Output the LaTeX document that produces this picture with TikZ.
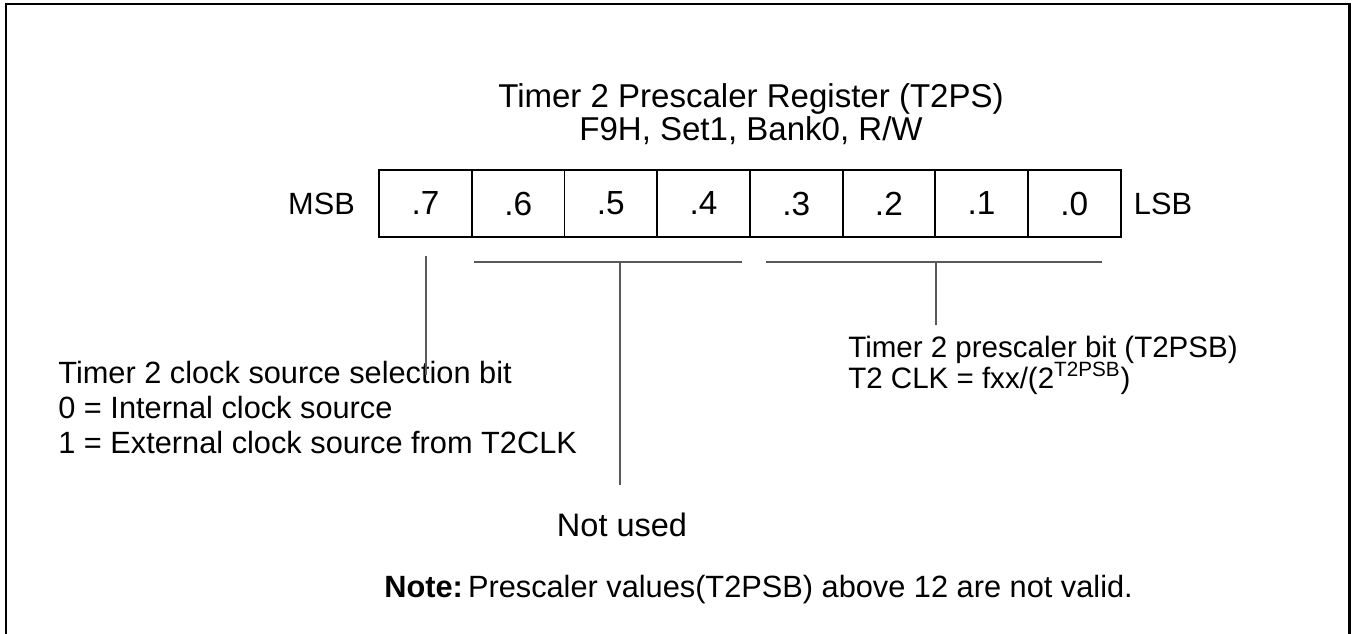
\documentclass[tikz,border=0pt]{standalone}
\usepackage{fontspec}
\setmainfont{Liberation Sans}
\usetikzlibrary{positioning}

\begin{document}
\begin{tikzpicture}[
    x=0.02cm, y=-0.02cm,
    txt/.style={font=\fontsize{17.5}{20}\selectfont, inner sep=0pt},
    bitcell/.style={rectangle, draw, line width=1.1pt, minimum width=1.854cm, minimum height=1.34cm, inner sep=0pt, font=\fontsize{19}{20}\selectfont},
    lead/.style={black!65, line width=0.6pt},
]
\useasboundingbox (0,0) rectangle (1352,633);
% Frame (open at the bottom)
\draw[line width=1.7pt] (6,640) -- (6,4) -- (1349,4) -- (1349,640);

% Title
\node[txt, align=center, font=\fontsize{18.8}{18.5}\selectfont] (title) at (751,114) {Timer 2 Prescaler Register (T2PS)\\F9H, Set1, Bank0, R/W};

% Register bits
\node[bitcell] (b7) at (425.5,203.5) {.7};
\node[bitcell, right=-1.1pt of b7] (b6) {.6};
\node[bitcell, right=-1.1pt of b6] (b5) {.5};
\node[bitcell, right=-1.1pt of b5] (b4) {.4};
\node[bitcell, right=-1.1pt of b4] (b3) {.3};
\node[bitcell, right=-1.1pt of b3] (b2) {.2};
\node[bitcell, right=-1.1pt of b2] (b1) {.1};
\node[bitcell, right=-1.1pt of b1] (b0) {.0};
\node[txt, left=0.46cm of b7] (msb) {MSB};
\node[txt, right=0.24cm of b0] (lsb) {LSB};

% Field descriptions
\node[txt, align=left, anchor=north west, font=\fontsize{17.5}{20}\selectfont] (clksel) at (58,361)
  {Timer 2 clock source selection bit\\0 = Internal clock source\\1 = External clock source from T2CLK};
\node[txt, font=\fontsize{18.5}{20}\selectfont] (unused) at (622,525) {Not used};
\node[txt, anchor=base west, font=\fontsize{16.8}{18}\selectfont] (psb) at (848,357) {Timer 2 prescaler bit (T2PSB)};
\node[txt, anchor=base west, font=\fontsize{16.8}{18}\selectfont] (psbclk) at (848,388) {T2 CLK = fxx/(2\textsuperscript{T2PSB})};
\node[txt, anchor=west] (note) at (384,590) {\textbf{Note:}\,Prescaler values(T2PSB) above 12 are not valid.};

% Leads
\coordinate (s7) at (426,256);
\coordinate (e7) at (426,375);
\coordinate (ua) at (474,262);
\coordinate (ub) at (742,262);
\coordinate (um) at (620,262);
\coordinate (ue) at (620,485);
\coordinate (pa) at (766,262);
\coordinate (pb) at (1102,262);
\coordinate (pm) at (936,262);
\coordinate (pe) at (936,325);
\draw[lead] (s7) -- (e7);
\draw[lead] (ua) -- (ub);
\draw[lead] (um) -- (ue);
\draw[lead] (pa) -- (pb);
\draw[lead] (pm) -- (pe);
\end{tikzpicture}
\end{document}
